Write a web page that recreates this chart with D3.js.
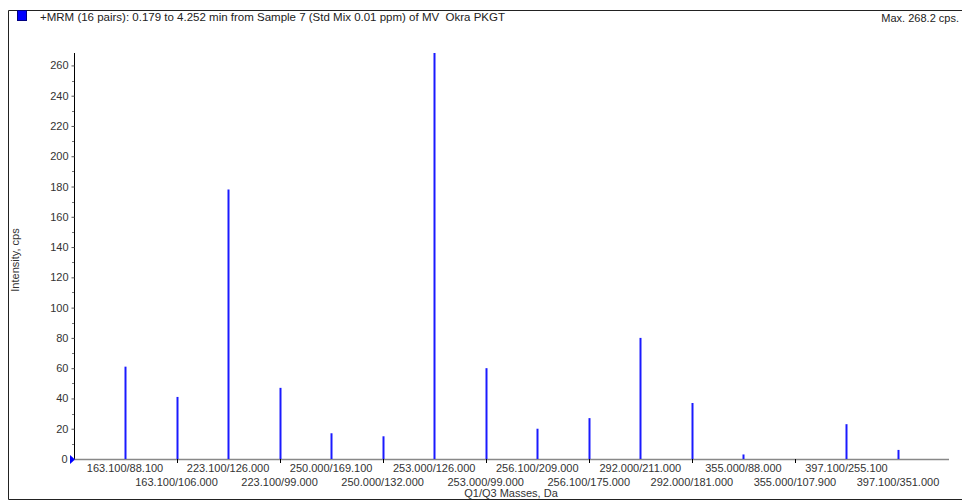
<!DOCTYPE html>
<html>
<head>
<meta charset="utf-8">
<script src="https://cdn.jsdelivr.net/npm/d3@7"></script>
<style>
  body { margin: 0; background: #fff; }
  svg { display: block; font-family: "Liberation Sans", Arial, sans-serif; }
</style>
</head>
<body>
<svg id="chart" width="962" height="501"></svg>
<script>
// MRM pairs (Q1/Q3) and their intensity, cps
var pairs = [
  "163.100/88.100", "163.100/106.000", "223.100/126.000", "223.100/99.000",
  "250.000/169.100", "250.000/132.000", "253.000/126.000", "253.000/99.000",
  "256.100/209.000", "256.100/175.000", "292.000/211.000", "292.000/181.000",
  "355.000/88.000", "355.000/107.900", "397.100/255.100", "397.100/351.000"
];
var intensity = [61, 41, 178, 47, 17, 15, 268.2, 60, 20, 27, 80, 37, 3, 0, 23, 6];
var yTicks = [0, 20, 40, 60, 80, 100, 120, 140, 160, 180, 200, 220, 240, 260];
var titleText = "+MRM (16 pairs): 0.179 to 4.252 min from Sample 7 (Std Mix 0.01 ppm) of MV  Okra PKGT";
var maxText = "Max. 268.2 cps.";

var svg = d3.select("#chart");

// frame
svg.append("path")
  .attr("d", "M962,10.5H8.5V499.5H962")
  .attr("fill", "none")
  .attr("stroke", "#222")
  .attr("stroke-width", 1);

// legend square + header texts
svg.append("rect")
  .attr("x", 17.5).attr("y", 10.5).attr("width", 9).attr("height", 10)
  .attr("fill", "#0000ff").attr("stroke", "#000080");

svg.append("text")
  .attr("x", 40).attr("y", 21)
  .attr("font-size", 11.5).attr("fill", "#222")
  .style("white-space", "pre")
  .text(titleText);

svg.append("text")
  .attr("x", 959).attr("y", 22)
  .attr("text-anchor", "end")
  .attr("font-size", 11).attr("fill", "#222")
  .text(maxText);

var x = d3.scalePoint().domain(pairs).range([125, 898]);
var y = d3.scaleLinear().domain([0, 268.2]).range([459, 53]);

// y axis
var yAxis = d3.axisLeft(y).tickValues(yTicks).tickSize(3).tickPadding(3);
var gy = svg.append("g").attr("transform", "translate(74.5,0)").call(yAxis);
gy.select(".domain").attr("stroke", "#000").attr("d", "M0,53V459");
gy.selectAll(".tick line").attr("stroke", "#555");
gy.selectAll(".tick text").attr("font-size", 11).attr("fill", "#333")
  .attr("font-family", "Liberation Sans, Arial, sans-serif");
gy.selectAll(".tick").filter(function(d) { return d === 0; }).select("text").attr("x", -7);

// minor y ticks
svg.append("g")
  .selectAll("line")
  .data(d3.range(10, 268, 20))
  .enter()
  .append("line")
  .attr("x1", 72).attr("x2", 74)
  .attr("y1", function(d) { return Math.round(y(d)) + 0.5; })
  .attr("y2", function(d) { return Math.round(y(d)) + 0.5; })
  .attr("stroke", "#777");

// x axis line
svg.append("line")
  .attr("x1", 74).attr("x2", 949)
  .attr("y1", 459.5).attr("y2", 459.5)
  .attr("stroke", "#888").attr("stroke-width", 1.5);

// small ticks below axis for the second label row
svg.append("g")
  .selectAll("line")
  .data(pairs.filter(function(d, i) { return i % 2 === 1 && i < 15; }))
  .enter()
  .append("line")
  .attr("x1", function(d) { return Math.round(x(d)) + 0.5; })
  .attr("x2", function(d) { return Math.round(x(d)) + 0.5; })
  .attr("y1", 459).attr("y2", 463)
  .attr("stroke", "#000");

// zero marker
svg.append("path")
  .attr("d", "M70,455L75,459.5L70,464Z")
  .attr("fill", "#0000ff");

// bars (sticks)
svg.append("g")
  .selectAll("line")
  .data(pairs)
  .enter()
  .append("line")
  .attr("x1", function(d) { return Math.round(x(d)) + 0.5; })
  .attr("x2", function(d) { return Math.round(x(d)) + 0.5; })
  .attr("y1", 459)
  .attr("y2", function(d, i) { return y(intensity[i]); })
  .attr("stroke", "#1a1aff")
  .attr("stroke-width", 2);

// x labels, staggered
svg.append("g")
  .selectAll("text")
  .data(pairs)
  .enter()
  .append("text")
  .attr("x", function(d) { return x(d); })
  .attr("y", function(d, i) { return i % 2 === 0 ? 472 : 486; })
  .attr("text-anchor", "middle")
  .attr("font-size", 11).attr("fill", "#333")
  .text(function(d) { return d; });

// axis titles
svg.append("text")
  .attr("x", 511).attr("y", 497)
  .attr("text-anchor", "middle")
  .attr("font-size", 11).attr("fill", "#333")
  .text("Q1/Q3 Masses, Da");

svg.append("text")
  .attr("transform", "translate(19,260) rotate(-90)")
  .attr("text-anchor", "middle")
  .attr("font-size", 11).attr("fill", "#333")
  .text("Intensity, cps");
</script>
</body>
</html>
